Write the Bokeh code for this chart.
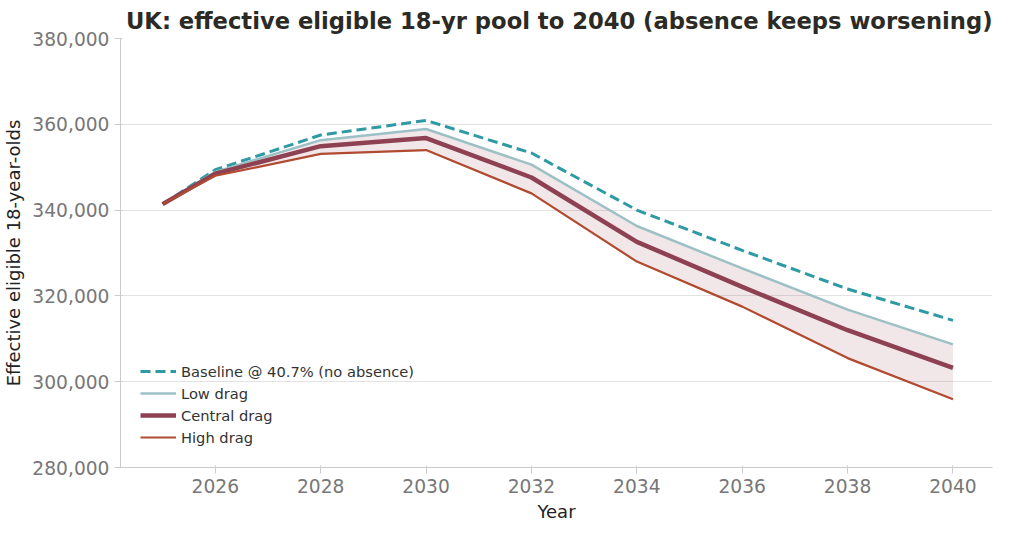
from bokeh.plotting import figure
from bokeh.models import NumeralTickFormatter, Legend, LegendItem, FixedTicker, Range1d
from bokeh.embed import file_html
from bokeh.resources import INLINE

years = [2025, 2026, 2028, 2030, 2032, 2034, 2036, 2038, 2040]
baseline = [341400, 349400, 357500, 360900, 353300, 340000, 330600, 321600, 314300]
low = [341400, 348900, 356300, 358900, 350600, 336300, 326400, 316800, 308700]
central = [341400, 348500, 354900, 356800, 347600, 332600, 322100, 312000, 303200]
high = [341400, 348000, 353100, 354000, 343900, 328000, 317500, 305500, 295900]
xticks = [2026, 2028, 2030, 2032, 2034, 2036, 2038, 2040]

p = figure(width=1008, height=524, output_backend="svg", toolbar_location=None,
           title="UK: effective eligible 18-yr pool to 2040 (absence keeps worsening)",
           x_range=Range1d(2024.2, 2040.75), y_range=Range1d(280000, 380000),
           min_border_left=10, min_border_right=16)
p.title.text_font = "DejaVu Sans"
p.title.text_font_size = "17pt"
p.title.text_font_style = "bold"
p.title.text_color = "#2b2a24"
p.title.align = "right"

p.varea(x=years, y1=high, y2=low, fill_color="#8b3a4a", fill_alpha=0.12)
r_base = p.line(years, baseline, line_color="#2e9aa3", line_width=3, line_dash="10 5")
r_low = p.line(years, low, line_color="#9dc0c6", line_width=2.5)
r_c = p.line(years, central, line_color="#8e4152", line_width=4.5)
r_h = p.line(years, high, line_color="#b04a30", line_width=2.2)

legend = Legend(items=[LegendItem(label="Baseline @ 40.7% (no absence)", renderers=[r_base]),
                       LegendItem(label="Low drag", renderers=[r_low]),
                       LegendItem(label="Central drag", renderers=[r_c]),
                       LegendItem(label="High drag", renderers=[r_h])],
                location="bottom_left", border_line_alpha=0, background_fill_alpha=0,
                label_text_font="DejaVu Sans", label_text_font_size="11pt",
                label_text_color="#333333", spacing=2, glyph_width=36)
p.add_layout(legend)

p.xaxis.ticker = FixedTicker(ticks=xticks)
p.yaxis.ticker = FixedTicker(ticks=[280000, 300000, 320000, 340000, 360000, 380000])
p.yaxis.formatter = NumeralTickFormatter(format="0,0")
for ax in (p.xaxis, p.yaxis):
    ax.major_label_text_font = "DejaVu Sans"
    ax.major_label_text_font_size = "14pt"
    ax.major_label_text_color = "#777777"
    ax.axis_label_text_font = "DejaVu Sans"
    ax.axis_label_text_font_size = "13.5pt"
    ax.axis_label_text_font_style = "normal"
    ax.axis_label_text_color = "#222222"
    ax.axis_line_color = "#cccccc"
    ax.major_tick_line_color = "#cccccc"
    ax.minor_tick_line_color = None
p.xaxis.axis_label = "Year"
p.yaxis.axis_label = "Effective eligible 18-year-olds"
p.xgrid.grid_line_color = None
p.ygrid.grid_line_color = "#e3e3e3"
p.outline_line_color = None

open("out.html", "w").write(file_html(p, INLINE))
